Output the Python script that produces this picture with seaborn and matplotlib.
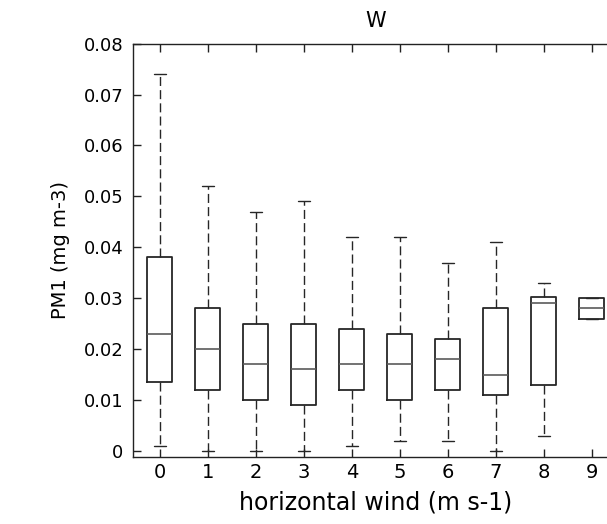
import matplotlib
matplotlib.use("Agg")
import matplotlib.pyplot as plt
import numpy as np
import pandas as pd
import seaborn as sns

# Wind-speed classes (m s-1) and five-number summaries of PM1 (mg m-3)
wind_class = [0, 1, 2, 3, 4, 5, 6, 7, 8, 9]
whisker_low = [0.001, 0.000, 0.000, 0.000, 0.001, 0.002, 0.002, 0.000, 0.003, 0.026]
quartile_1 = [0.0135, 0.012, 0.010, 0.009, 0.012, 0.010, 0.012, 0.011, 0.013, 0.026]
median_val = [0.023, 0.020, 0.017, 0.016, 0.017, 0.017, 0.018, 0.015, 0.029, 0.028]
quartile_3 = [0.038, 0.028, 0.025, 0.025, 0.024, 0.023, 0.022, 0.028, 0.0303, 0.030]
whisker_high = [0.074, 0.052, 0.047, 0.049, 0.042, 0.042, 0.037, 0.041, 0.033, 0.030]

y_ticks = [0, 0.01, 0.02, 0.03, 0.04, 0.05, 0.06, 0.07, 0.08]
y_tick_labels = ["0", "0.01", "0.02", "0.03", "0.04", "0.05", "0.06", "0.07", "0.08"]

# Long table: five values per class reproduce each class's quartiles and range
rows = []
for k, lo, q1, md, q3, hi in zip(wind_class, whisker_low, quartile_1,
                                 median_val, quartile_3, whisker_high):
    for v in (lo, q1, md, q3, hi):
        rows.append({"wind": k, "pm1": v})
df = pd.DataFrame(rows)

sns.set_style("ticks")
plt.rcParams["font.family"] = ["DejaVu Sans"]

fig = plt.figure(figsize=(6.07, 5.24), dpi=100)
ax = fig.add_axes([0.2191, 0.1288, 0.8003, 0.788])

line_col = "#262626"
sns.boxplot(
    data=df, x="wind", y="pm1", order=wind_class, ax=ax,
    fill=False, color=line_col, width=0.52, whis=(0, 100),
    linewidth=1.2, showfliers=False,
    boxprops=dict(color=line_col, linewidth=1.3),
    whiskerprops=dict(color=line_col, linewidth=1.0, linestyle=(0, (6.5, 3))),
    capprops=dict(color=line_col, linewidth=1.0),
    medianprops=dict(color="#5a5a5a", linewidth=1.2),
)

ax.set_xlim(-0.56, 9.56)
ax.set_ylim(-0.0011, 0.08)
ax.set_yticks(y_ticks)
ax.set_yticklabels(y_tick_labels)
ax.set_xticks(range(len(wind_class)))
ax.set_xticklabels([str(w) for w in wind_class])

for side in ["left", "bottom", "top", "right"]:
    ax.spines[side].set_visible(True)
    ax.spines[side].set_color("#222222")
    ax.spines[side].set_linewidth(1.0)

ax.tick_params(axis="both", direction="in", length=6, width=1.0,
               color="#222222", labelcolor="black")
ax.tick_params(axis="x", top=True, labelsize=14, pad=5)
ax.tick_params(axis="y", labelsize=13, pad=7)

ax.set_xlabel("horizontal wind (m s-1)", fontsize=17, labelpad=6, color="black")
ax.set_ylabel("PM1 (mg m-3)", fontsize=14, labelpad=10, color="black")
ax.set_title("W", fontsize=15, pad=12, color="black")

fig.savefig("out.png", dpi=100)
